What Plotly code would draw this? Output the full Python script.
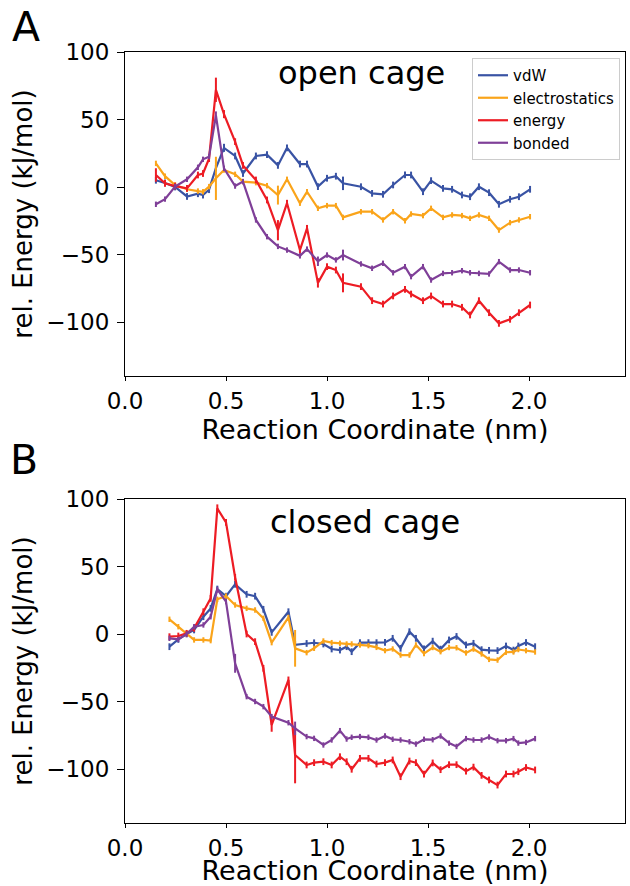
import plotly.graph_objects as go

# ---------------- Panel A: open cage ----------------
x_open = [0.153, 0.198, 0.248, 0.307, 0.361, 0.386, 0.416, 0.450, 0.490, 0.545, 0.584, 0.648,
          0.703, 0.757, 0.802, 0.866, 0.901, 0.955, 1.000, 1.044, 1.079, 1.168, 1.223, 1.277,
          1.327, 1.386, 1.416, 1.475, 1.515, 1.574, 1.619, 1.668, 1.708, 1.752, 1.802, 1.851,
          1.906, 1.950, 2.005]

vdw_open = [5, 3, 0, -7, -5, -6, -2, 14, 29, 23, 10, 23, 24, 16, 29, 17, 17, 0.3, 6.5, 8, 2.7,
            0.2, -4.7, -5.4, 1.5, 8.9, 8.9, -3.5, 4.7, -1, -1.7, -5.9, -7.2, 0.2, -4.2, -12.8,
            -9.1, -7.2, -1.7]
elec_open = [17.5, 8, 1.5, -1.7, -3, -3.5, 0.3, 6.4, 12.6, 9.4, 4, 3.2, 1, -6, 5.7, -12, -3.5,
             -15.8, -13.8, -13.8, -22.5, -18.3, -18.3, -24.4, -18.3, -25, -20, -21.2, -15.8,
             -22.5, -20.7, -21.2, -23.2, -20.7, -23.2, -31.9, -26.4, -24.4, -22]
energy_open = [8.9, 2.7, 0.7, -1, 8.9, 10, 21, 72, 54, 33.6, 16, 5.2, -9.6, -32, -12, -46.7,
               -30.6, -71, -59, -61.5, -71, -73.8, -84.2, -86.7, -80.7, -75.8, -79.3, -84.2,
               -80.7, -86.7, -86.7, -89.1, -94.8, -84.2, -93.1, -101, -98, -93.1, -87.4]
bonded_open = [-12.8, -9, 0.3, 5.7, 14.6, 20.5, 22.5, 53, 13.8, 0.7, 4, -24.4, -36.8, -44,
               -46.7, -51, -46, -55, -50.4, -54, -50.4, -57, -60.2, -56.5, -63.5, -59, -66.4,
               -59, -68.9, -64, -63.5, -62, -63.5, -64, -64.4, -55.3, -61.5, -61.5, -63.5]

vdw_open_err = [2.5, 2.5, 2.5, 2.5, 2.5, 2.5, 2.5, 2.5, 3, 2.5, 2.5, 2.5, 2.5, 2.5, 2.5, 2.5,
                2.5, 2.5, 2.5, 2.5, 5, 2.5, 2.5, 2.5, 2.5, 2.5, 2.5, 2.5, 2.5, 2.5, 2.5, 2.5,
                2.5, 2.5, 2.5, 2.5, 2.5, 2.5, 2.5]
elec_open_err = [2, 2, 2, 2, 2, 2, 2, 16, 2, 2, 2, 2, 2, 7, 2, 2, 2, 2, 2, 2, 2, 2, 2, 2, 2,
                 2, 2, 2, 2, 2, 2, 2, 2, 2, 2, 2, 2, 2, 2]
energy_open_err = [5, 2.5, 2.5, 2.5, 2.5, 2.5, 2.5, 9, 3, 2.5, 2.5, 2.5, 2.5, 7.5, 2.5, 2.5,
                   2.5, 3.5, 2.5, 2.5, 7, 2.5, 2.5, 2.5, 2.5, 2.5, 2.5, 2.5, 2.5, 2.5, 2.5,
                   2.5, 2.5, 2.5, 2.5, 2.5, 2.5, 2.5, 2.5]
bonded_open_err = [2, 2, 2, 2, 2, 2, 2, 3, 2, 2, 2, 2, 2, 2, 2, 2, 2, 3.5, 2, 2, 4, 2, 2, 2,
                   2, 2, 2, 2, 2, 2, 2, 2, 2, 2, 2, 2, 2, 2, 2]

# ---------------- Panel B: closed cage ----------------
x_closed = [0.220, 0.264, 0.305, 0.342, 0.388, 0.424, 0.457, 0.500, 0.545, 0.602, 0.644, 0.685,
            0.726, 0.809, 0.842, 0.899, 0.936, 0.982, 1.023, 1.064, 1.097, 1.122, 1.163, 1.205,
            1.245, 1.287, 1.325, 1.364, 1.408, 1.440, 1.480, 1.523, 1.562, 1.604, 1.641, 1.688,
            1.725, 1.765, 1.802, 1.844, 1.886, 1.923, 1.947, 1.985, 2.030]

vdw_closed = [-9.4, -4, 0, 3, 12.8, 19, 33.3, 28, 36.8, 29.4, 28, 18.3, 1.2, 16.5, -8, -7,
              -6.5, -7.4, -11.1, -11.9, -9.4, -13.1, -6.4, -6.4, -6.4, -6.2, -3.2, -10.6, 1.7,
              -3.2, -11, -5.3, -11.2, -4.4, -1.8, -8.1, -6.9, -11.6, -12.1, -12.3, -8.9, -11.9,
              -8.9, -6.3, -9.4]
elec_closed = [10.9, 5.4, 0.5, -4.4, -4.4, -4.9, 25.7, 28.1, 21.5, 19, 17.8, 11.6, -6.4, 12.3,
               -10.6, -13.8, -10.6, -5.2, -6.4, -6.9, -7.4, -7.4, -8.1, -8.6, -9.9, -12.3,
               -11.1, -15.6, -15.6, -8.1, -14.5, -10, -13.1, -10, -10.2, -14, -11.2, -14.8,
               -18.8, -19.3, -13.5, -13.3, -11.5, -12.3, -13.3]
energy_closed = [-2, -1.5, 0.5, 4.2, 16.5, 26.4, 93, 82.7, 42, 0, -5.7, -25.4, -67.4, -34,
                 -89.6, -97, -95.3, -94.6, -97, -90.9, -94.6, -100.2, -92.1, -92.1, -96.3,
                 -95.3, -93.3, -105.7, -94.1, -95.3, -103.8, -95.5, -100.5, -96.8, -96.8,
                 -101.6, -98.6, -104.7, -108.1, -111.9, -103.7, -103.7, -102, -98.9, -100.7]
bonded_closed = [-3.2, -4, 0, 5.4, 6.7, 12.8, 33, 24, -21.7, -46.4, -50, -53.8, -61.2, -65.7,
                 -69.9, -76, -77.3, -82.2, -78.5, -71.6, -77.8, -76.5, -76, -76.5, -78.5,
                 -75.6, -78, -78.5, -79.8, -81.5, -78, -78.3, -75.6, -80.8, -83.3, -77.5,
                 -78.5, -78.5, -76.3, -79, -79, -77.5, -80.8, -80.3, -77.5]

vdw_closed_err = [2.5, 2.5, 2.5, 2.5, 2.5, 2.5, 2.5, 2.5, 2.5, 2.5, 2.5, 2.5, 2.5, 2.5, 3,
                  2.5, 2.5, 2.5, 2.5, 2.5, 2.5, 2.5, 2.5, 2.5, 2.5, 2.5, 2.5, 2.5, 2.5, 2.5,
                  2.5, 2.5, 2.5, 2.5, 2.5, 2.5, 2.5, 2.5, 2.5, 2.5, 2.5, 2.5, 2.5, 2.5, 2.5]
elec_closed_err = [2, 2, 2, 2, 2, 2, 2, 2, 2, 2, 2, 2, 2, 2, 13.6, 2, 2, 2, 2, 2, 2, 2, 2, 2,
                   2, 2, 2, 2, 2, 2, 2, 2, 2, 2, 2, 2, 2, 2, 2, 2, 2, 2, 2, 2, 2]
energy_closed_err = [2.5, 2.5, 2.5, 2.5, 2.5, 2.5, 3, 2.5, 2.5, 2.5, 2.5, 2.5, 5, 2.5, 21,
                     2.5, 2.5, 2.5, 2.5, 2.5, 2.5, 2.5, 2.5, 2.5, 2.5, 2.5, 2.5, 2.5, 2.5,
                     2.5, 2.5, 2.5, 2.5, 2.5, 2.5, 2.5, 2.5, 2.5, 2.5, 2.5, 2.5, 2.5, 2.5,
                     2.5, 2.5]
bonded_closed_err = [2, 2, 2, 2, 2, 2, 2, 2, 7, 2, 2, 2, 2, 2, 5, 2, 2, 2, 2, 2, 2, 2, 2, 2,
                     2, 2, 2, 2, 2, 2, 2, 2, 2, 2, 2, 2, 2, 2, 2, 2, 2, 2, 2, 2, 2]

series_names = ["vdW", "electrostatics", "energy", "bonded"]
colors = ["#3953a4", "#faa41a", "#ed1c24", "#7f3f98"]

x_ticks = [0, 0.5, 1.0, 1.5, 2.0]
x_tick_labels = ["0.0", "0.5", "1.0", "1.5", "2.0"]
y_ticks = [-100, -50, 0, 50, 100]
y_tick_labels = ["\u2212100", "\u221250", "0", "50", "100"]

fig = go.Figure()

open_sets = [(vdw_open, vdw_open_err), (elec_open, elec_open_err),
             (energy_open, energy_open_err), (bonded_open, bonded_open_err)]
closed_sets = [(vdw_closed, vdw_closed_err), (elec_closed, elec_closed_err),
               (energy_closed, energy_closed_err), (bonded_closed, bonded_closed_err)]

for name, col, (ys, es) in zip(series_names, colors, open_sets):
    fig.add_trace(go.Scatter(
        x=x_open, y=ys, name=name, mode="lines",
        line=dict(color=col, width=2.2),
        error_y=dict(type="data", array=es, visible=True, color=col, thickness=2, width=0),
        xaxis="x", yaxis="y", showlegend=True))

for name, col, (ys, es) in zip(series_names, colors, closed_sets):
    fig.add_trace(go.Scatter(
        x=x_closed, y=ys, name=name, mode="lines",
        line=dict(color=col, width=2.2),
        error_y=dict(type="data", array=es, visible=True, color=col, thickness=2, width=0),
        xaxis="x2", yaxis="y2", showlegend=False))

xdom = [125 / 630, 625 / 630]
ydom_top = [(886 - 376) / 886, (886 - 52) / 886]
ydom_bot = [(886 - 823) / 886, (886 - 499) / 886]

def xaxis_cfg(anchor):
    return dict(domain=xdom, range=[0, 2.475], anchor=anchor, automargin=True,
                tickmode="array", tickvals=x_ticks, ticktext=x_tick_labels,
                ticks="outside", ticklen=4, tickwidth=1.2, tickcolor="black",
                showline=True, linecolor="black", linewidth=1.2, mirror=True,
                showgrid=False, zeroline=False,
                tickfont=dict(size=23, color="black"),
                title=dict(text="Reaction Coordinate (nm)", font=dict(size=27, color="black"),
                           standoff=7))

def yaxis_cfg(dom, anchor):
    return dict(domain=dom, range=[-140, 100], anchor=anchor, automargin=True,
                tickmode="array", tickvals=y_ticks, ticktext=y_tick_labels,
                ticks="outside", ticklen=7, tickwidth=1.2, tickcolor="black",
                showline=True, linecolor="black", linewidth=1.2, mirror=True,
                showgrid=False, zeroline=False,
                tickfont=dict(size=23, color="black"), ticklabelstandoff=3,
                title=dict(text="rel. Energy (kJ/mol)", font=dict(size=26, color="black"),
                           standoff=6))

fig.update_layout(
    width=630, height=886,
    margin=dict(l=0, r=0, t=0, b=0, autoexpand=False),
    paper_bgcolor="white", plot_bgcolor="white",
    font=dict(family="DejaVu Sans", color="black"),
    xaxis=xaxis_cfg("y"), yaxis=yaxis_cfg(ydom_top, "x"),
    xaxis2=xaxis_cfg("y2"), yaxis2=yaxis_cfg(ydom_bot, "x2"),
    legend=dict(x=620 / 630, y=(886 - 58) / 886, xanchor="right", yanchor="top",
                xref="paper", yref="paper",
                bgcolor="rgba(255,255,255,0.8)", bordercolor="#cccccc", borderwidth=1,
                font=dict(size=15, color="black")),
    annotations=[
        dict(text="A", x=10 / 630, y=1 - 1 / 886, xref="paper", yref="paper",
             xanchor="left", yanchor="top", showarrow=False, font=dict(size=41, color="black")),
        dict(text="B", x=8 / 630, y=1 - 434 / 886, xref="paper", yref="paper",
             xanchor="left", yanchor="top", showarrow=False, font=dict(size=41, color="black")),
        dict(text="open cage", x=361 / 630, y=1 - 73 / 886, xref="paper", yref="paper",
             xanchor="center", yanchor="middle", showarrow=False,
             font=dict(size=32, color="black")),
        dict(text="closed cage", x=365 / 630, y=1 - 522 / 886, xref="paper", yref="paper",
             xanchor="center", yanchor="middle", showarrow=False,
             font=dict(size=32, color="black")),
    ],
)

fig.write_html("out.html", config={"displayModeBar": False},
               post_script="document.body.style.margin='0';")
